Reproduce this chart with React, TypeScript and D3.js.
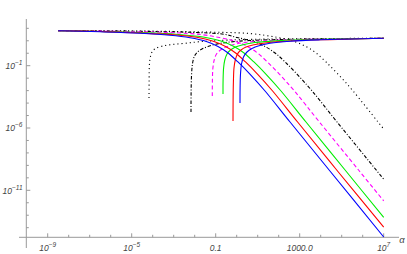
import React from "react";
import * as d3 from "d3";

// points are [log10 alpha, log10 value]
const blueFall = [[-8.5,1.81],[-6.51,1.72],[-4.6,1.6],[-3.18,1.44],[-2.22,1.24],[-1.51,0.98],[-0.89,0.54],[-0.41,0.02],[0.06,-0.7],[0.63,-1.67],[1.35,-3.03],[2.54,-5.52],[4.44,-9.45],[7,-14.75]];
const redFall = [[-8.5,1.81],[-6.51,1.74],[-4.6,1.62],[-3.0,1.48],[-1.9,1.28],[-1.15,0.98],[-0.53,0.54],[-0.05,0.02],[0.42,-0.7],[0.99,-1.67],[1.71,-3.03],[2.9,-5.52],[4.8,-9.45],[7,-13.95]];
const greenFall = [[-8.5,1.81],[-6.51,1.75],[-4.6,1.66],[-2.9,1.53],[-1.6,1.3],[-0.75,0.98],[-0.13,0.54],[0.35,0.02],[0.82,-0.7],[1.39,-1.67],[2.11,-3.03],[3.3,-5.52],[5.2,-9.45],[7,-13.18]];
const magentaFall = [[-8.5,1.81],[-5.56,1.75],[-3.18,1.66],[-1.7,1.5],[-0.82,1.26],[-0.11,0.98],[0.51,0.54],[0.99,0.02],[1.46,-0.7],[2.03,-1.67],[2.75,-3.03],[3.94,-5.52],[5.84,-9.45],[7,-11.85]];
const dotDashFall = [[-8.5,1.81],[-5.08,1.77],[-2.22,1.68],[-0.6,1.52],[0.02,1.26],[0.73,0.98],[1.35,0.54],[1.83,0.02],[2.3,-0.7],[2.87,-1.67],[3.59,-3.03],[4.78,-5.52],[6.68,-9.45],[7,-10.11]];
const dottedFall = [[-8.5,1.81],[-5.08,1.79],[-1.75,1.71],[0.63,1.58],[1.97,1.26],[2.68,0.98],[3.3,0.54],[3.78,0.02],[4.25,-0.7],[4.82,-1.67],[5.54,-3.03],[6.73,-5.52],[7,-6.08]];

const dottedRise = [[-4.176,-3.59],[-4.17,-2.15],[-4.16,-1.02],[-4.12,-0.38],[-4.03,0.1],[-3.87,0.38],[-3.557,0.565],[-3.081,0.701],[-2.462,0.798],[-1.748,0.926],[-0.319,1.063],[2.062,1.151],[7,1.199]];
const dotDashRise = [[-2.176,-4.716],[-2.171,-3.111],[-2.148,-1.666],[-2.1,-0.783],[-2.01,-0.222],[-1.867,0.1],[-1.652,0.34],[-1.367,0.541],[-0.986,0.726],[-0.414,0.886],[0.633,1.022],[3.014,1.127],[7,1.199]];
const magentaRise = [[-1.162,-3.432],[-1.157,-2.148],[-1.133,-1.185],[-1.071,-0.543],[-0.962,-0.061],[-0.771,0.26],[-0.51,0.501],[-0.129,0.701],[0.49,0.886],[1.586,1.022],[3.49,1.119],[7,1.199]];
const greenRise = [[-0.652,-3.271],[-0.648,-2.148],[-0.624,-1.185],[-0.567,-0.543],[-0.462,-0.061],[-0.295,0.26],[-0.057,0.501],[0.3,0.685],[0.871,0.862],[2.062,1.014],[3.967,1.111],[7,1.199]];
const redRise = [[-0.176,-5.438],[-0.171,-3.753],[-0.157,-2.308],[-0.129,-1.185],[-0.067,-0.543],[0.038,-0.061],[0.205,0.26],[0.443,0.501],[0.824,0.677],[1.443,0.838],[2.538,0.982],[4.443,1.095],[7,1.199]];
const blueRise = [[0.157,-3.994],[0.162,-2.79],[0.181,-1.666],[0.229,-0.864],[0.324,-0.302],[0.49,0.1],[0.729,0.38],[1.062,0.605],[1.586,0.798],[2.538,0.966],[3.967,1.079],[7,1.199]];

const xMajor = [-9, -5, -1, 3, 7];
const xMajorLabels = [["10", "\u22129"], ["10", "\u22125"], ["0.1", ""], ["1000.0", ""], ["10", "7"]];
const xMinor = d3.range(-9, 8);
const yMajor = [-1, -6, -11];
const yMajorLabels = [["10", "\u22121"], ["10", "\u22126"], ["10", "\u221211"]];
const yMinor = d3.range(-14, 3);

const series = [
  { pts: dottedFall, color: "#000", dash: "1.1,3" },
  { pts: dottedRise, color: "#000", dash: "1.1,3" },
  { pts: dotDashFall, color: "#000", dash: "3.5,1.8,1,1.8" },
  { pts: dotDashRise, color: "#000", dash: "3.5,1.8,1,1.8" },
  { pts: magentaFall, color: "#ff00ff", dash: "4,2.6" },
  { pts: magentaRise, color: "#ff00ff", dash: "4,2.6" },
  { pts: greenFall, color: "#00ee00", dash: null },
  { pts: greenRise, color: "#00ee00", dash: null },
  { pts: redFall, color: "#ff0000", dash: null },
  { pts: redRise, color: "#ff0000", dash: null },
  { pts: blueFall, color: "#0000ff", dash: null },
  { pts: blueRise, color: "#0000ff", dash: null },
];

export default function App() {
  const W = 407, H = 254;
  const x = d3.scaleLog().domain([1e-9, 1e7]).range([47.7, 383.7]);
  const y = d3.scaleLog().domain([1e-1, 1e-11]).range([65.7, 190.3]);
  const axisY = 237.3;
  const axisX = 26.3;

  const line = d3
    .line<number[]>()
    .x((d) => x(Math.pow(10, d[0])))
    .y((d) => y(Math.pow(10, d[1])))
    .curve(d3.curveCatmullRom.alpha(0.5));

  const font = "'Liberation Sans', Arial, sans-serif";

  return (
    <svg width={W} height={H} style={{ position: "absolute", left: 0, top: 0, background: "#fff" }}>
      {/* axes */}
      <line x1={19} x2={399} y1={axisY} y2={axisY} stroke="#999" strokeWidth={1} />
      <line x1={axisX} x2={axisX} y1={19} y2={248} stroke="#999" strokeWidth={1} />
      {xMinor.map((e) => (
        <line key={"xm" + e} x1={x(Math.pow(10, e))} x2={x(Math.pow(10, e))} y1={axisY} y2={axisY - (xMajor.includes(e) ? 4 : 2.5)} stroke="#999" />
      ))}
      {yMinor.map((e) => (
        <line key={"ym" + e} x1={axisX} x2={axisX + (yMajor.includes(e) ? 4 : 2.5)} y1={y(Math.pow(10, e))} y2={y(Math.pow(10, e))} stroke="#999" />
      ))}
      {xMajor.map((e, i) => (
        <text key={"xl" + e} x={x(Math.pow(10, e))} y={250.5} textAnchor="middle" fontFamily={font} fontStyle="italic" fontSize={8.5} fill="#444">
          {xMajorLabels[i][0]}
          {xMajorLabels[i][1] && (
            <tspan dy={-3.8} fontSize={6.5}>{xMajorLabels[i][1]}</tspan>
          )}
        </text>
      ))}
      {yMajor.map((e, i) => (
        <text key={"yl" + e} x={22.5} y={y(Math.pow(10, e)) + 3.2} textAnchor="end" fontFamily={font} fontStyle="italic" fontSize={8.5} fill="#444">
          {yMajorLabels[i][0]}
          <tspan dy={-3.8} fontSize={6.5}>{yMajorLabels[i][1]}</tspan>
        </text>
      ))}
      <text x={402} y={243} textAnchor="middle" fontFamily={font} fontStyle="italic" fontSize={9.5} fill="#444">α</text>

      {/* curves */}
      <g fill="none" strokeWidth={1.1}>
        {series.map((s, i) => (
          <path key={i} d={line(s.pts) || ""} stroke={s.color} strokeDasharray={s.dash || undefined} />
        ))}
      </g>
    </svg>
  );
}
